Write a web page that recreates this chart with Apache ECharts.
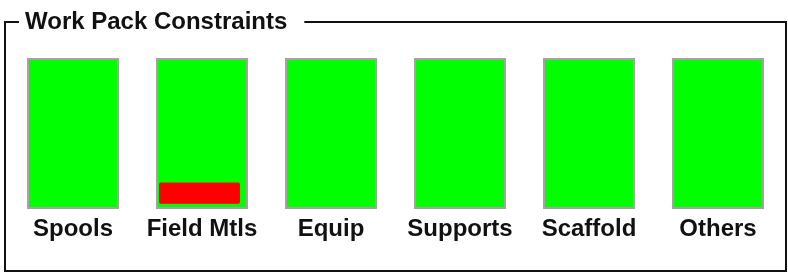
<!DOCTYPE html>
<html style="height:100%">
<meta charset="utf-8" />
<title>Work Pack Constraints</title>
<script src="https://cdn.jsdelivr.net/npm/echarts@6/dist/echarts.min.js"></script>
<body style="margin:0;background:#fff">
<div id="chartmain" style="width:788px;height:276px;"></div>
<script type="text/javascript">
    // categories and values
    var categories = ['Spools', 'Field Mtls', 'Equip', 'Supports', 'Scaffold', 'Others'];
    var clearValues = [1, 1, 1, 1, 1, 1];            // green (full) bars
    var constraintStart = [0, 0.035, 0, 0, 0, 0];    // red bar starts here
    var constraintValues = [0, 0.14, 0, 0, 0, 0];    // red bar height

    var myChart = echarts.init(document.getElementById('chartmain'));
    var option = {
        backgroundColor: '#fff',
        animation: false,
        title: {
            text: 'Work Pack Constraints',
            left: 19,
            top: 10,
            padding: [0, 17, 0, 6],
            backgroundColor: '#fff',
            textStyle: {
                fontFamily: 'Liberation Sans, Arial, sans-serif',
                fontSize: 24,
                fontWeight: 'bold',
                color: '#111'
            }
        },
        graphic: [{
            type: 'rect',
            z: 0,
            shape: { x: 5, y: 22, width: 781, height: 249 },
            style: { fill: 'none', stroke: '#111', lineWidth: 2 }
        }],
        grid: [
            { left: 8.5, width: 774, top: 58, height: 151 },
            { left: 6, width: 774, top: 58, height: 151 }
        ],
        xAxis: [{
            type: 'category',
            gridIndex: 0,
            data: categories,
            axisLine: { show: false },
            axisTick: { show: false },
            axisLabel: {
                interval: 0,
                margin: 8,
                fontFamily: 'Liberation Sans, Arial, sans-serif',
                fontSize: 24,
                fontWeight: 'bold',
                color: '#111'
            }
        }, {
            type: 'category',
            gridIndex: 1,
            data: categories,
            show: false
        }],
        yAxis: [
            { type: 'value', gridIndex: 0, min: 0, max: 1, show: false },
            { type: 'value', gridIndex: 1, min: 0, max: 1, show: false }
        ],
        series: [{
            name: 'clear',
            type: 'bar',
            xAxisIndex: 0,
            yAxisIndex: 0,
            barWidth: 92,
            data: clearValues,
            itemStyle: { color: '#00ff00', borderColor: '#a9a1a1', borderWidth: 2 }
        }, {
            name: 'base',
            type: 'bar',
            xAxisIndex: 1,
            yAxisIndex: 1,
            stack: 'c',
            barWidth: 81,
            data: constraintStart,
            itemStyle: { color: 'transparent' }
        }, {
            name: 'constraint',
            type: 'bar',
            xAxisIndex: 1,
            yAxisIndex: 1,
            stack: 'c',
            barWidth: 81,
            data: constraintValues,
            itemStyle: { color: '#ff0000', borderRadius: 2 }
        }]
    };
    myChart.setOption(option);
</script>
</body>
</html>
